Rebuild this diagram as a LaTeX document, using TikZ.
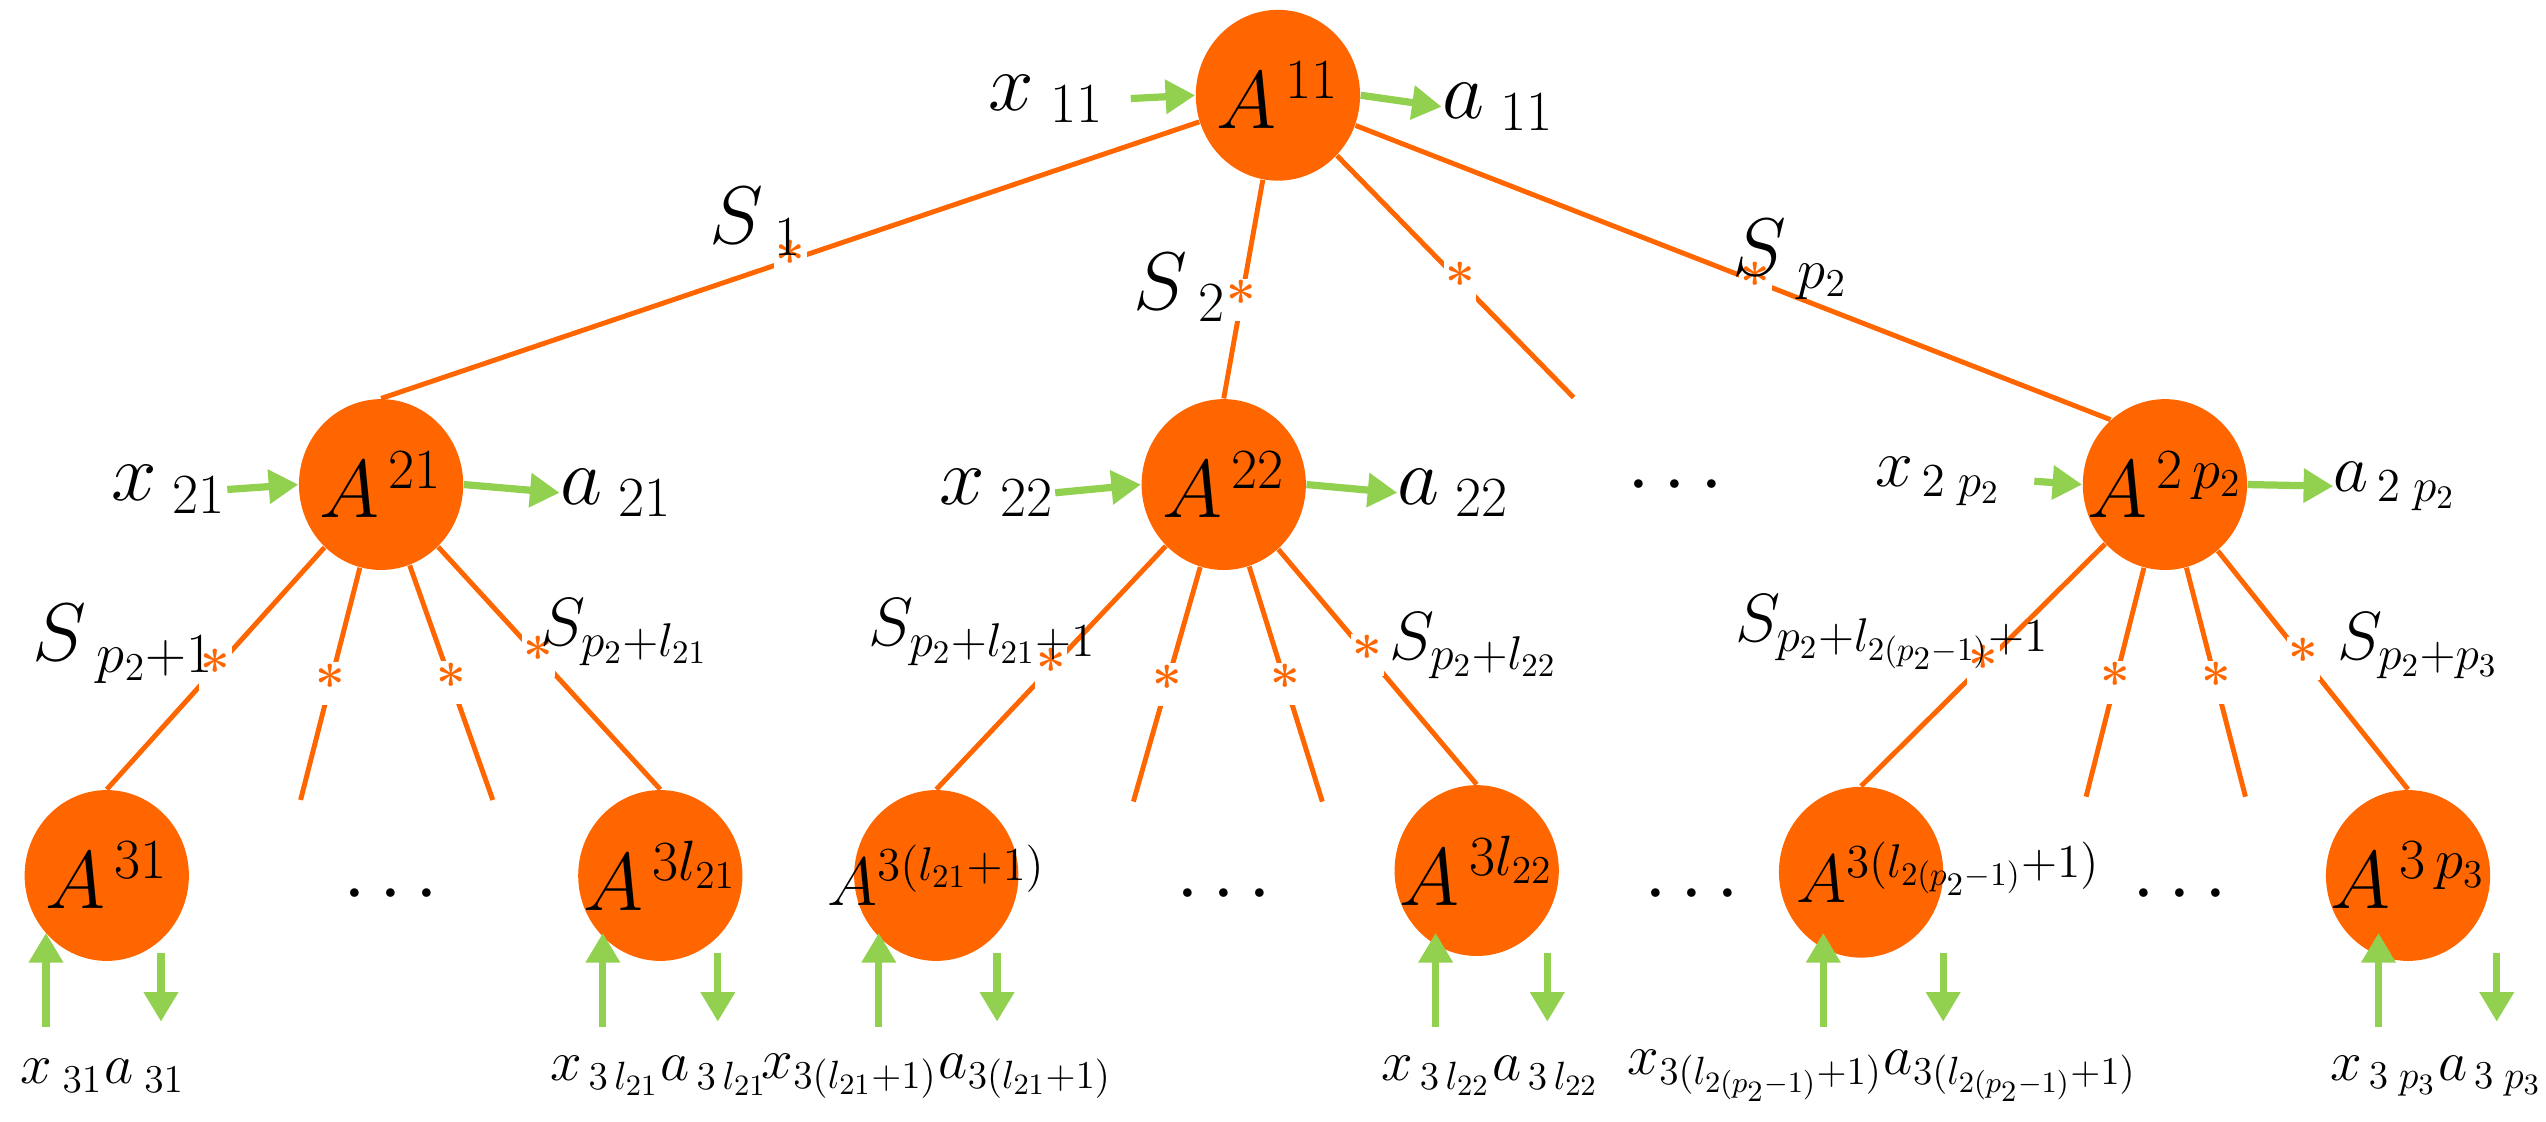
\documentclass[tikz,border=0pt]{standalone}
\usetikzlibrary{arrows.meta,shapes.geometric}
\definecolor{org}{RGB}{255,102,0}
\definecolor{grn}{RGB}{146,208,80}
\tikzset{
 agent/.style={ellipse,fill=org,minimum width=50pt,minimum height=52pt,inner sep=0pt},
 atext/.style={font=\fontsize{24}{28}\selectfont,inner sep=0pt},
 link/.style={draw=org,line width=1.5pt},
 starm/.style={fill=white,inner sep=0.5pt,text=org,font=\bfseries\fontsize{16}{16}\selectfont},
 io/.style={draw=grn,line width=2.2pt,-{Triangle[length=9pt,width=10pt]}},
 lbl/.style={font=\fontsize{24}{28}\selectfont,inner sep=0pt},
 dotsn/.style={font=\fontsize{24}{28}\selectfont},
}
\begin{document}
\begin{tikzpicture}[x=0.5pt,y=-0.5pt]
\useasboundingbox (0,0) rectangle (1550,683);
% nodes
\node[agent] (a11) at (778,58) {};
\node[agent] (a21) at (232,295) {};
\node[agent] (a22) at (745,295) {};
\node[agent] (a2p) at (1318,295) {};
\node[agent] (a31) at (65,533) {};
\node[agent] (a3l21) at (402,533) {};
\node[agent] (a3l21p) at (570,533) {};
\node[agent] (a3l22) at (899,530) {};
\node[agent] (a3lp) at (1133,531) {};
\node[agent] (a3p3) at (1466,533) {};
\node[atext] (t11) at (a11) {$A^{\,11}$};
\node[atext] (t21) at (a21) {$A^{\,21}$};
\node[atext] (t22) at (a22) {$A^{\,22}$};
\node[atext] (t2p) at (a2p) {$A^{\,2\,p_2}$};
\node[atext] (t31) at (a31) {$A^{\,31}$};
\node[atext] (t3l21) at (a3l21) {$A^{\,3l_{21}}$};
\node[atext,font=\fontsize{20}{24}\selectfont] (t3l21p) at (a3l21p) {$A^{3(l_{21}+1)}$};
\node[atext] (t3l22) at (a3l22) {$A^{\,3l_{22}}$};
\node[atext,font=\fontsize{20}{24}\selectfont,anchor=west] (t3lp) at ([xshift=-20]a3lp.center) {$A^{3(l_{2(p_2-1)}+1)}$};
\node[atext] (t3p3) at (a3p3) {$A^{\,3\,p_3}$};
% stub ends
\coordinate (s0) at (958,242);
\coordinate (s1) at (183,487);
\coordinate (s2) at (300,487);
\coordinate (s3) at (690,488);
\coordinate (s4) at (805,488);
\coordinate (s5) at (1270,485);
\coordinate (s6) at (1367,485);
% top edges
\draw[link] (a11) -- (a21.north) node[pos=0.5,starm]{*};
\draw[link] (a11) -- (a22.north) node[pos=0.55,starm]{*};
\draw[link] (a11) -- (s0) node[pos=0.52,starm]{*};
\draw[link] (a11) -- (a2p.130) node[pos=0.53,starm]{*};
% second level
\draw[link] (a21) -- (a31.north) node[pos=0.5,starm]{*};
\draw[link] (a21) -- (s1) node[pos=0.5,starm]{*};
\draw[link] (a21) -- (s2) node[pos=0.5,starm]{*};
\draw[link] (a21) -- (a3l21.north) node[pos=0.45,starm]{*};
\draw[link] (a22) -- (a3l21p.north) node[pos=0.5,starm]{*};
\draw[link] (a22) -- (s3) node[pos=0.5,starm]{*};
\draw[link] (a22) -- (s4) node[pos=0.5,starm]{*};
\draw[link] (a22) -- (a3l22.north) node[pos=0.45,starm]{*};
\draw[link] (a2p) -- (a3lp.north) node[pos=0.5,starm]{*};
\draw[link] (a2p) -- (s5) node[pos=0.5,starm]{*};
\draw[link] (a2p) -- (s6) node[pos=0.5,starm]{*};
\draw[link] (a2p) -- (a3p3.north) node[pos=0.45,starm]{*};
% link labels
\node[lbl] (l1) at (460,135) {$S_{\;1}$};
\node[lbl] (l2) at (718,175) {$S_{\;2}$};
\node[lbl] (l3) at (1090,158) {$S_{\;p_2}$};
\node[lbl] (l4) at (75,392) {$S_{\;p_2+1}$};
\node[lbl,font=\fontsize{20}{24}\selectfont] (l5) at (380,385) {$S_{p_2+l_{21}}$};
\node[lbl,font=\fontsize{20}{24}\selectfont] (l6) at (598,385) {$S_{p_2+l_{21}+1}$};
\node[lbl,font=\fontsize{20}{24}\selectfont] (l7) at (897,393) {$S_{p_2+l_{22}}$};
\node[lbl,font=\fontsize{20}{24}\selectfont] (l8) at (1152,385) {$S_{p_2+l_{2(p_2-1)}+1}$};
\node[lbl,font=\fontsize{20}{24}\selectfont] (l9) at (1472,393) {$S_{p_2+p_3}$};
% level 1,2 io
\node[lbl] (x11) at (637,60) {$x_{\;11}$};
\node[lbl] (y11) at (912,65) {$a_{\;11}$};
\draw[io] ([xshift=8]x11.east) coordinate (x11e) -- (a11.west);
\draw[io] (a11.east) -- (y11.west);
\node[lbl] (x21) at (103,298) {$x_{\;21}$};
\node[lbl] (y21) at (375,300) {$a_{\;21}$};
\draw[io] (x21.east) -- (a21.west);
\draw[io] (a21.east) -- (y21.west);
\node[lbl] (x22) at (607,300) {$x_{\;22}$};
\node[lbl] (y22) at (885,300) {$a_{\;22}$};
\draw[io] (x22.east) -- (a22.west);
\draw[io] (a22.east) -- (y22.west);
\node[lbl,font=\fontsize{20}{24}\selectfont] (x2p) at (1180,293) {$x_{\,2\;p_2}$};
\node[lbl,font=\fontsize{20}{24}\selectfont] (y2p) at (1458,296) {$a_{\,2\;p_2}$};
\draw[io] ([xshift=10]x2p.east) -- (a2p.west);
\draw[io] (a2p.east) -- (y2p.west);
% level 3 io
\foreach \n/\xa/\xb/\lx/\la in {
  a31/28/98/{x_{\;31}}/{a_{\;31}},
  a3l21/367/437/{x_{\,3\,l_{21}}}/{a_{\,3\,l_{21}}},
  a3l21p/535/607/{x_{3(l_{21}+1)}}/{a_{3(l_{21}+1)}},
  a3l22/874/942/{x_{\,3\,l_{22}}}/{a_{\,3\,l_{22}}},
  a3lp/1110/1183/{x_{3(l_{2(p_2-1)}+1)}}/{a_{3(l_{2(p_2-1)}+1)}},
  a3p3/1448/1520/{x_{\,3\;p_3}}/{a_{\,3\;p_3}}}{
  \pgfmathsetmacro{\xm}{(\xa+\xb)/2}
  \coordinate (\n-xi) at (\xa,625);
  \coordinate (\n-ao) at (\xb,622);
  \draw[io] (\n-xi) -- (\xa,568);
  \draw[io] (\xb,580) -- (\n-ao);
  \node[lbl,font=\fontsize{18}{22}\selectfont,anchor=east] (\n-xl) at (\xm,655) {$\lx$};
  \node[lbl,font=\fontsize{18}{22}\selectfont,anchor=west] (\n-al) at (\xm,655) {$\la$};
}
% dots
\node[dotsn] (d0) at (1020,296) {$\cdots$};
\node[dotsn] (d1) at (238,545) {$\cdots$};
\node[dotsn] (d2) at (745,545) {$\cdots$};
\node[dotsn] (d3) at (1030,545) {$\cdots$};
\node[dotsn] (d4) at (1327,545) {$\cdots$};
\end{tikzpicture}
\end{document}
